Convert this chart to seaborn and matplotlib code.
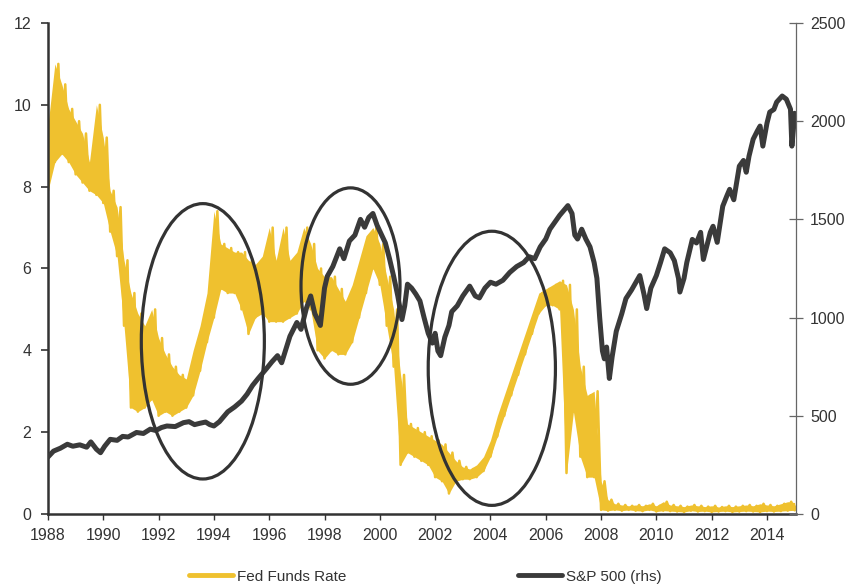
import numpy as np
import pandas as pd
import matplotlib
matplotlib.use("Agg")
import matplotlib.pyplot as plt
from matplotlib.patches import Ellipse
from matplotlib.lines import Line2D
import seaborn as sns

# Fed funds rate (%), quarterly, low / high of the noisy daily band
fed_years = np.arange(1988, 2015.01, 0.25)
fed_low = [
    7.9, 8.6, 8.8, 8.6,   8.3, 8.1, 7.9, 7.8,   7.6, 6.9, 6.3, 4.6,
    2.6, 2.5, 2.6, 2.8,   2.4, 2.5, 2.4, 2.5,   2.6, 2.9, 3.5, 4.2,
    4.8, 5.5, 5.4, 5.4,   5.0, 4.4, 4.8, 4.9,   4.7, 4.7, 4.7, 4.8,
    4.9, 5.2, 5.0, 4.0,   3.8, 4.0, 3.9, 3.9,   4.2, 4.8, 5.4, 6.0,
    5.6, 4.6, 3.6, 1.2,   1.5, 1.4, 1.3, 1.2,   0.9, 0.8, 0.5, 0.8,
    0.85, 0.85, 0.9, 1.05, 1.4, 1.9, 2.4, 2.9,  3.4, 3.9, 4.4, 4.9,
    5.1, 5.1, 5.0, 1.0,   2.5, 1.4, 0.9, 0.9,   0.1,
    0.08, 0.1, 0.08, 0.1, 0.08, 0.07, 0.1, 0.06, 0.08, 0.07, 0.06, 0.05,
    0.08, 0.06, 0.07, 0.05, 0.06, 0.07, 0.05, 0.06, 0.07, 0.06, 0.05, 0.07,
    0.06, 0.07, 0.08, 0.09,
]
fed_high = [
    9.5, 11.0, 10.5, 9.9,  9.6, 9.3, 8.6, 10.0,  9.2, 7.9, 7.5, 6.2,
    5.4, 4.9, 4.6, 5.0,   4.3, 3.9, 3.6, 3.4,   3.3, 4.0, 4.6, 5.4,
    7.4, 6.6, 6.5, 6.4,   6.4, 6.2, 6.1, 6.3,   7.0, 6.2, 7.0, 6.2,
    6.4, 7.0, 6.6, 6.0,   5.8, 5.8, 5.5, 5.2,   5.6, 6.2, 6.8, 7.0,
    6.6, 5.8, 5.0, 3.4,   2.2, 2.1, 2.0, 1.9,   1.8, 1.7, 1.5, 1.3,
    1.15, 1.1, 1.2, 1.4,  1.8, 2.4, 2.9, 3.4,   3.9, 4.4, 4.9, 5.4,
    5.5, 5.6, 5.7, 5.6,   5.0, 3.6, 2.9, 3.0,   0.8,
    0.35, 0.25, 0.22, 0.2, 0.22, 0.2, 0.25, 0.2, 0.3, 0.22, 0.2, 0.18,
    0.22, 0.2, 0.18, 0.2, 0.17, 0.2, 0.18, 0.2, 0.22, 0.2, 0.25, 0.22,
    0.2, 0.25, 0.3, 0.28,
]

# S&P 500 index level (rhs)
spx_years = [
    1988.0, 1988.2, 1988.45, 1988.7, 1988.9, 1989.15, 1989.4, 1989.55, 1989.75, 1989.9,
    1990.05, 1990.25, 1990.5, 1990.7, 1990.9, 1991.2, 1991.45, 1991.7, 1991.9, 1992.1,
    1992.3, 1992.6, 1992.9, 1993.1, 1993.3, 1993.5, 1993.7, 1993.85, 1994.0, 1994.2,
    1994.5, 1994.75, 1995.0, 1995.2, 1995.4, 1995.6, 1995.9, 1996.1, 1996.3, 1996.45,
    1996.75, 1997.0, 1997.15, 1997.35, 1997.5, 1997.65, 1997.85, 1998.0, 1998.1, 1998.3,
    1998.55, 1998.7, 1998.9, 1999.1, 1999.3, 1999.45, 1999.6, 1999.75, 1999.9, 2000.0,
    2000.2, 2000.35, 2000.5, 2000.65, 2000.8, 2000.9, 2001.0, 2001.15, 2001.3, 2001.45,
    2001.6, 2001.75, 2001.9, 2002.0, 2002.1, 2002.2, 2002.35, 2002.5, 2002.6, 2002.8,
    2003.0, 2003.25, 2003.45, 2003.6, 2003.8, 2004.0, 2004.2, 2004.45, 2004.7, 2004.95,
    2005.2, 2005.4, 2005.6, 2005.8, 2006.0, 2006.15, 2006.35, 2006.5, 2006.65, 2006.8,
    2006.95, 2007.05, 2007.15, 2007.3, 2007.45, 2007.6, 2007.75, 2007.85, 2007.95, 2008.05,
    2008.12, 2008.2, 2008.3, 2008.4, 2008.55, 2008.75, 2008.9, 2009.1, 2009.3, 2009.4,
    2009.55, 2009.65, 2009.8, 2010.0, 2010.15, 2010.3, 2010.5, 2010.65, 2010.8, 2010.85,
    2011.0, 2011.1, 2011.3, 2011.45, 2011.6, 2011.7, 2011.85, 2011.95, 2012.05, 2012.2,
    2012.4, 2012.55, 2012.65, 2012.8, 2013.0, 2013.15, 2013.25, 2013.35, 2013.5, 2013.65,
    2013.75, 2013.85, 2014.0, 2014.1, 2014.25, 2014.35, 2014.55, 2014.7, 2014.85, 2014.9,
    2014.95, 2015.0,
]
spx_level = [
    290, 320, 335, 355, 345, 352, 340, 367, 330, 312,
    345, 380, 375, 395, 392, 415, 410, 432, 425, 440,
    448, 445, 465, 470, 455, 462, 468, 455, 448, 470,
    520, 545, 575, 610, 655, 690, 740, 775, 806, 770,
    905, 975, 940, 1050, 1110, 1020, 960, 1150, 1210, 1260,
    1350, 1300, 1390, 1420, 1500, 1460, 1510, 1530, 1470, 1440,
    1380, 1300, 1210, 1110, 990, 1060, 1170, 1150, 1120, 1085,
    1000, 920, 870, 920, 830, 806, 900, 960, 1030, 1060,
    1110, 1160, 1110, 1100, 1150, 1180, 1170, 1190, 1230, 1260,
    1280, 1310, 1300, 1360, 1400, 1450, 1490, 1520, 1545, 1570,
    1530, 1420, 1400, 1450, 1400, 1360, 1280, 1200, 1000, 830,
    790, 850, 690, 800, 930, 1020, 1097, 1140, 1190, 1214,
    1120, 1046, 1150, 1214, 1280, 1350, 1330, 1290, 1200, 1130,
    1200, 1280, 1398, 1380, 1434, 1296, 1380, 1434, 1465, 1383,
    1567, 1620, 1653, 1600, 1771, 1800, 1740, 1822, 1908, 1950,
    1975, 1873, 1990, 2046, 2060, 2097, 2128, 2112, 2061, 1873,
    1950, 2040,
]

# annotation ellipses: centre year, centre rate, width (years), height (rate)
circles = [
    (1993.6, 4.22, 4.45, 6.73),
    (1998.94, 5.57, 3.58, 4.8),
    (2004.05, 3.56, 4.6, 6.7),
]

yellow = "#EFC12F"
dark = "#3A3A3A"
ink = "#333333"

sns.set_style("white")
plt.rcParams["font.family"] = ["Liberation Sans", "DejaVu Sans"]

# long table: low and high of each quarter share the same x -> min/max band
band = pd.DataFrame({
    "year": np.concatenate([fed_years, fed_years]),
    "rate": np.concatenate([fed_low, fed_high]),
})

# zigzag between the low and high of each quarter for the spiky texture
fed_x, fed_y = [], []
for t, lo, hi in zip(fed_years, fed_low, fed_high):
    fed_x += [t, t + 0.125]
    fed_y += [lo, hi]

fig, ax = plt.subplots(figsize=(8.52, 5.86), dpi=100)
fig.subplots_adjust(left=0.0563, right=0.9343, bottom=0.1229, top=0.9608)
ax2 = ax.twinx()

sns.lineplot(data=band, x="year", y="rate", ax=ax, color=yellow, linewidth=0,
             errorbar=lambda v: (v.min(), v.max()),
             err_kws={"alpha": 1, "linewidth": 0}, legend=False)
sns.lineplot(x=fed_x, y=fed_y, ax=ax, color=yellow, linewidth=1.8,
             estimator=None, sort=False, legend=False)
sns.lineplot(x=spx_years, y=spx_level, ax=ax2, color=dark, linewidth=3.6,
             estimator=None, sort=False, legend=False)

for cx, cy, w, h in circles:
    ax2.add_patch(Ellipse((cx, cy), w, h, transform=ax.transData, fill=False,
                          edgecolor=ink, linewidth=2.3, zorder=5))

ax.set_xlim(1988, 2015.05)
ax.set_ylim(0, 12)
ax2.set_ylim(0, 2500)
ax.set_xticks(range(1988, 2015, 2))
ax.set_yticks(range(0, 13, 2))
ax2.set_yticks(range(0, 2501, 500))
ax.set_xlabel("")
ax.set_ylabel("")
ax2.set_ylabel("")

for s in ["top", "right"]:
    ax.spines[s].set_visible(False)
for s in ["top", "left", "bottom"]:
    ax2.spines[s].set_visible(False)
ax.spines["left"].set_color(ink)
ax.spines["left"].set_linewidth(1.8)
ax.spines["bottom"].set_color(ink)
ax.spines["bottom"].set_linewidth(1.8)
ax2.spines["right"].set_color("#666666")
ax2.spines["right"].set_linewidth(0.9)

ax.tick_params(axis="y", direction="out", length=5, width=1.2, color=ink,
               labelsize=11.5, labelcolor=ink, pad=7, left=True)
ax.tick_params(axis="x", direction="out", length=4, width=1.0, color=ink,
               labelsize=11.5, labelcolor=ink, pad=6, bottom=True)
ax2.tick_params(axis="y", direction="inout", length=10, width=0.9, color="#666666",
                labelsize=11.5, labelcolor=ink, pad=5, right=True)

handles = [Line2D([], [], color=yellow, linewidth=3.5),
           Line2D([], [], color=dark, linewidth=3.5)]
fig.legend(handles, ["Fed Funds Rate", "S&P 500 (rhs)"], loc="center left",
           bbox_to_anchor=(0.222, 0.016), ncol=2, frameon=False, fontsize=11,
           handlelength=2.9, handletextpad=0.25, columnspacing=11.2,
           borderpad=0, borderaxespad=0, labelcolor=ink)

fig.savefig("out.png", dpi=100)
